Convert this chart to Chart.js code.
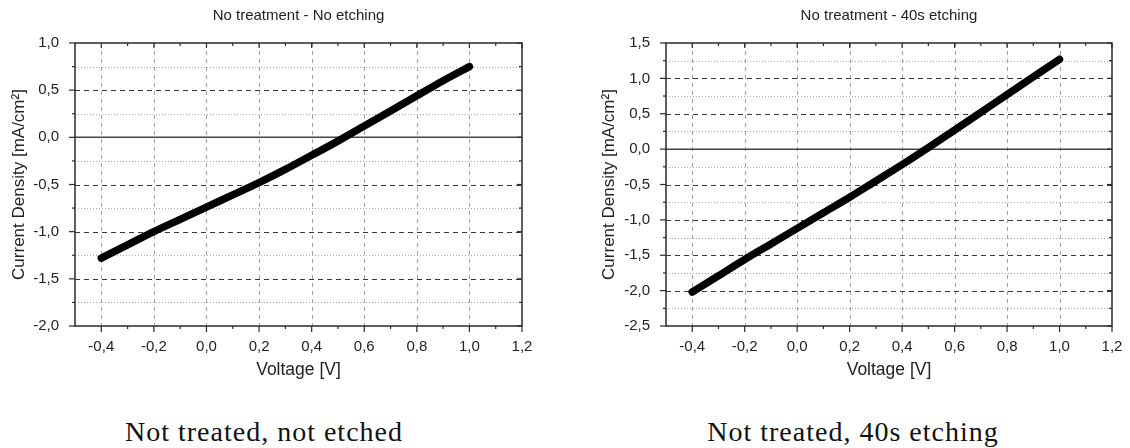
<!DOCTYPE html>
<html>
<head>
<meta charset="utf-8">
<script src="https://cdn.jsdelivr.net/npm/chart.js@4/dist/chart.umd.min.js"></script>
<style>
  body { margin: 0; background: #fff; width: 1130px; height: 448px; position: relative; overflow: hidden; }
  .box { position: absolute; top: 0; }
  .caption { position: absolute; top: 416px; font-family: "Liberation Serif", serif; font-size: 28px; letter-spacing: 1px; color: #111; white-space: nowrap; transform: translateX(-50%); }
</style>
</head>
<body>
<div class="box" style="left:0"><canvas id="chartA" width="565" height="395"></canvas></div>
<div class="box" style="left:590px"><canvas id="chartB" width="540" height="395"></canvas></div>
<div class="caption" style="left:264px">Not treated, not etched</div>
<div class="caption" style="left:853px">Not treated, 40s etching</div>
<script>
const voltage = [-0.4, -0.3, -0.2, -0.1, 0.0, 0.1, 0.2, 0.3, 0.4, 0.5, 0.6, 0.7, 0.8, 0.9, 1.0];
const currentNoEtch = [-1.28, -1.14, -1.00, -0.87, -0.74, -0.61, -0.48, -0.34, -0.19, -0.04, 0.12, 0.28, 0.44, 0.60, 0.75];
const current40s = [-2.02, -1.79, -1.56, -1.34, -1.12, -0.90, -0.68, -0.45, -0.22, 0.02, 0.27, 0.52, 0.77, 1.02, 1.27];

const xTicks = [-0.4, -0.2, 0.0, 0.2, 0.4, 0.6, 0.8, 1.0, 1.2];
const yTicksNoEtch = [-2.0, -1.5, -1.0, -0.5, 0.0, 0.5, 1.0];
const yTicks40s = [-2.5, -2.0, -1.5, -1.0, -0.5, 0.0, 0.5, 1.0, 1.5];

const sans = "'Liberation Sans', Arial, sans-serif";
const commaFmt = v => Number(v).toFixed(1).replace(".", ",");

function seg(ctx, x1, y1, x2, y2) {
  ctx.beginPath();
  ctx.moveTo(x1, y1);
  ctx.lineTo(x2, y2);
  ctx.stroke();
}

// grid lines, frame, tick marks and the title
const decor = {
  id: "decor",
  beforeDatasetsDraw(chart, args, opts) {
    const { ctx, chartArea: a, scales: { x, y } } = chart;
    const yt = opts.yTicks;
    ctx.save();
    ctx.lineWidth = 1;
    // minor horizontal dotted
    ctx.strokeStyle = "#a8a8a8";
    ctx.setLineDash([1, 2]);
    for (let i = 0; i < yt.length - 1; i++) {
      const py = Math.round(y.getPixelForValue((yt[i] + yt[i + 1]) / 2)) + 0.5;
      seg(ctx, a.left, py, a.right, py);
    }
    // vertical dashed
    ctx.strokeStyle = "#a0a0a0";
    ctx.setLineDash([4, 4]);
    xTicks.forEach(v => {
      if (v > x.min && v < x.max) {
        const px = Math.round(x.getPixelForValue(v)) + 0.5;
        seg(ctx, px, a.top, px, a.bottom);
      }
    });
    // major horizontal dashed
    ctx.strokeStyle = "#383838";
    ctx.setLineDash([5, 4]);
    yt.forEach(v => {
      if (v !== 0 && v > y.min && v < y.max) {
        const py = Math.round(y.getPixelForValue(v)) + 0.5;
        seg(ctx, a.left, py, a.right, py);
      }
    });
    // zero line
    ctx.setLineDash([]);
    ctx.strokeStyle = "#444";
    ctx.lineWidth = 1.5;
    const p0 = y.getPixelForValue(0);
    seg(ctx, a.left, p0, a.right, p0);
    ctx.restore();
  },
  afterDraw(chart, args, opts) {
    const { ctx, chartArea: a, scales: { x, y } } = chart;
    const yt = opts.yTicks;
    ctx.save();
    ctx.strokeStyle = "#2a2a2a";
    ctx.lineWidth = 1.5;
    ctx.strokeRect(a.left, a.top, a.right - a.left, a.bottom - a.top);
    ctx.lineWidth = 1.2;
    xTicks.forEach((v, i) => {
      const px = x.getPixelForValue(v);
      seg(ctx, px, a.bottom, px, a.bottom + 6);
      seg(ctx, px, a.top, px, a.top + 5);
      if (i < xTicks.length - 1) {
        const pm = x.getPixelForValue((v + xTicks[i + 1]) / 2);
        seg(ctx, pm, a.bottom, pm, a.bottom + 3);
        seg(ctx, pm, a.top, pm, a.top + 3);
      }
    });
    yt.forEach((v, i) => {
      const py = y.getPixelForValue(v);
      seg(ctx, a.left - 6, py, a.left, py);
      seg(ctx, a.right, py, a.right - 5, py);
      if (i < yt.length - 1) {
        const pm = y.getPixelForValue((v + yt[i + 1]) / 2);
        seg(ctx, a.left - 3, pm, a.left, pm);
        seg(ctx, a.right, pm, a.right - 3, pm);
      }
    });
    ctx.fillStyle = "#222";
    ctx.font = "15px " + sans;
    ctx.textAlign = "center";
    ctx.textBaseline = "middle";
    ctx.fillText(opts.title, (a.left + a.right) / 2, 16);
    ctx.restore();
  }
};

function makeChart(id, title, current, yTicks, yLeft, padRight) {
  const ctx = document.getElementById(id).getContext("2d");
  return new Chart(ctx, {
    type: "line",
    data: {
      datasets: [{
        data: voltage.map((v, i) => ({ x: v, y: current[i] })),
        borderColor: "#000",
        borderWidth: 7.5,
        pointRadius: 0,
        cubicInterpolationMode: "monotone",
        borderCapStyle: "round",
        borderJoinStyle: "round",
        fill: false
      }]
    },
    options: {
      responsive: false,
      animation: false,
      layout: { padding: { top: 43, right: padRight, left: 0, bottom: 0 } },
      plugins: {
        legend: { display: false },
        tooltip: { enabled: false },
        decor: { title: title, yTicks: yTicks }
      },
      scales: {
        x: {
          type: "linear",
          min: -0.5,
          max: 1.2,
          afterBuildTicks: s => { s.ticks = xTicks.map(v => ({ value: v })); },
          afterFit: s => { s.height = 69; },
          grid: { display: false },
          border: { display: false },
          ticks: { callback: commaFmt, padding: 4, autoSkip: false, maxRotation: 0, color: "#222", font: { family: sans, size: 15 } },
          title: { display: true, text: "Voltage [V]", color: "#222", font: { family: sans, size: 17.5 }, padding: { top: 0, bottom: 14 } }
        },
        y: {
          type: "linear",
          min: yTicks[0],
          max: yTicks[yTicks.length - 1],
          afterBuildTicks: s => { s.ticks = yTicks.map(v => ({ value: v })); },
          afterFit: s => { s.width = yLeft; },
          grid: { display: false },
          border: { display: false },
          ticks: { callback: commaFmt, padding: 8, autoSkip: false, color: "#222", font: { family: sans, size: 15 } },
          title: { display: true, text: "Current Density [mA/cm²]", color: "#222", font: { family: sans, size: 17 }, padding: { top: 9, bottom: 0 } }
        }
      }
    },
    plugins: [decor]
  });
}

makeChart("chartA", "No treatment - No etching", currentNoEtch, yTicksNoEtch, 75, 43);
makeChart("chartB", "No treatment - 40s etching", current40s, yTicks40s, 76, 18);
</script>
</body>
</html>
